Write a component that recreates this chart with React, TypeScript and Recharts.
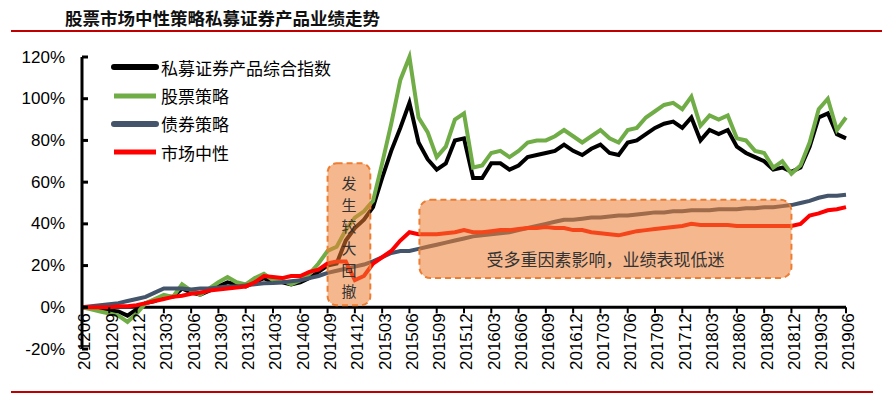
import React from 'react';
import { LineChart, Line, XAxis, YAxis, ReferenceLine, ReferenceArea, Legend } from 'recharts';

// x tick labels, one every 3 months starting at 201206
const tickLabels = [
  '201206', '201209', '201212', '201303', '201306', '201309', '201312', '201403', '201406', '201409',
  '201412', '201503', '201506', '201509', '201512', '201603', '201606', '201609', '201612', '201703',
  '201706', '201709', '201712', '201803', '201806', '201809', '201812', '201903', '201906',
];

// monthly values (%), 201206 .. 201906
const composite = [
  0, -0.5, -1, -1.5, -2, -4, -1, 2, 3, 5, 5, 9, 7, 6, 8, 10, 12, 11, 10, 12,
  14, 12, 12, 11, 12, 14, 17, 20, 21, 32, 38, 42, 48, 62, 75, 86, 98, 79, 71, 66,
  69, 80, 81, 62, 62, 69, 69, 66, 68, 72, 73, 74, 75, 78, 75, 73, 76, 78, 74, 73,
  79, 80, 83, 86, 88, 89, 86, 91, 80, 85, 83, 85, 77, 74, 72, 70, 66, 67, 65, 67,
  77, 91, 93, 83, 81,
];
const stock = [
  0, -1, -2, -3, -4, -7, -3, 2, 4, 6, 5, 11, 8, 6, 9, 12, 14.5, 12, 11, 14,
  16, 13, 13, 11, 13, 16, 21, 27, 29, 37, 43, 46, 51, 69, 88, 109, 120, 91, 84, 72,
  77, 90, 93, 67, 68, 74, 75, 72, 75, 79, 80, 80, 82, 85, 82, 79, 82, 85, 81, 79,
  85, 86, 91, 94, 97, 98, 95, 101, 87, 92, 90, 92, 81, 80, 75, 74, 67, 70, 64, 68,
  79, 95, 100, 85, 91,
];
const bond = [
  0, 0.5, 1, 1.5, 2, 3, 4, 5, 7, 9, 9, 9, 8.5, 9, 9, 9.5, 10, 10, 10.5, 11,
  11.5, 11.7, 12, 12.5, 13, 14, 15, 16.5, 17.5, 18.5, 19.5, 20.5, 22, 24, 26, 27, 27, 28, 29, 30,
  31, 32, 33, 34, 34.5, 35, 35.5, 36, 37, 38, 39, 40, 41, 42, 42, 42.5, 43, 43, 43.5, 44,
  44, 44.5, 45, 45.5, 45.5, 46, 46, 46.5, 46.5, 46.5, 47, 47, 47, 47.5, 47.5, 48, 48, 48.5, 49, 50,
  51, 52.5, 53.5, 53.5, 54,
];
const neutral = [
  0, 0, 0, 0, 0.5, 0.5, 1, 2, 3, 4, 5, 5.5, 6.5, 7, 8, 8.5, 9, 9.5, 10, 12,
  15, 14.5, 14, 15, 15, 17, 18, 21, 22, 22, 13, 15, 21, 24, 27, 32, 36, 35, 35, 35,
  35.5, 36, 37, 36, 36, 36.5, 37, 37, 37.5, 38, 38, 38.5, 38, 38, 37, 37, 36, 35.5, 35, 34.5,
  35.5, 36.5, 37, 37.5, 38, 38.5, 39, 40, 39.5, 39.5, 39.5, 39.5, 39, 39, 39, 39, 39, 39, 39, 40,
  44, 45, 46.5, 47, 48,
];

const series = [
  { key: 'composite', name: '私募证券产品综合指数', color: '#000000', values: composite },
  { key: 'stock', name: '股票策略', color: '#70AD47', values: stock },
  { key: 'bond', name: '债券策略', color: '#44546A', values: bond },
  { key: 'neutral', name: '市场中性', color: '#FF0000', values: neutral },
];

const data = composite.map((_, i) => {
  const row: Record<string, number> = { m: i };
  series.forEach((s) => (row[s.key] = s.values[i]));
  return row;
});

const yTicks = [-20, 0, 20, 40, 60, 80, 100, 120];
const xTicks = tickLabels.map((_, i) => i * 3);

const W = 882;
const H = 397;
const TOP = 57;
const BOTTOM = 48;
const PLOT_H = H - TOP - BOTTOM;
const ZERO_SHIFT = (PLOT_H * 20) / 140; // distance from -20% to 0%

const sans = '"Liberation Sans", Arial, sans-serif';
const cjk = '"Noto Sans CJK SC", sans-serif';

function XTick({ x, y, payload }: any) {
  const y0 = y - ZERO_SHIFT;
  const label = tickLabels[Math.round(payload.value / 3)];
  return (
    <g>
      <line x1={x} x2={x} y1={y0} y2={y0 + 6} stroke="#000" strokeWidth={2} />
      <text
        x={x + 3}
        y={y0 + 6}
        transform={`rotate(-90, ${x + 3}, ${y0 + 6})`}
        textAnchor="end"
        dominantBaseline="central"
        fontFamily={sans}
        fontSize={17}
        fill="#000"
      >
        {label}
      </text>
    </g>
  );
}

function YTick({ x, y, payload }: any) {
  return (
    <g>
      <line x1={x} x2={x + 6} y1={y} y2={y} stroke="#000" strokeWidth={3} />
      <text x={x - 17} y={y} textAnchor="end" dominantBaseline="central" fontFamily={sans} fontSize={17} fill="#000">
        {payload.value}%
      </text>
    </g>
  );
}

function LegendBox() {
  return (
    <div style={{ fontFamily: cjk, fontSize: 17, color: '#000' }}>
      {series.map((s, i) => (
        <div key={s.key} style={{ display: 'flex', alignItems: 'center', height: 28.4 }}>
          <svg width={50} height={10} style={{ display: 'block' }}>
            <line
              x1={3}
              x2={45}
              y1={5}
              y2={5}
              stroke={s.color}
              strokeWidth={i === 1 || i === 3 ? 5 : 6}
              strokeLinecap={i === 1 || i === 3 ? 'butt' : 'round'}
            />
          </svg>
          <span>{s.name}</span>
        </div>
      ))}
    </div>
  );
}

const boxFill = '#ED7D31';

function DrawdownBox(props: any) {
  const { x, y, width, height } = props;
  const chars = '发生较大回撤'.split('');
  return (
    <g>
      <rect x={x} y={y} width={width} height={height} rx={9} fill={boxFill} fillOpacity={0.55}
        stroke={boxFill} strokeWidth={2} strokeDasharray="6 4" />
      {chars.map((c, i) => (
        <text key={i} x={x + width / 2} y={y + 19 + i * 21.7} textAnchor="middle" dominantBaseline="central"
          fontFamily={cjk} fontSize={15} fill="#333">
          {c}
        </text>
      ))}
    </g>
  );
}

function SlumpBox(props: any) {
  const { x, y, width, height } = props;
  return (
    <g>
      <rect x={x} y={y} width={width} height={height} rx={11} fill={boxFill} fillOpacity={0.55}
        stroke={boxFill} strokeWidth={2} strokeDasharray="6 4" />
      <text x={x + width / 2} y={y + height - 20} textAnchor="middle" dominantBaseline="central"
        fontFamily={cjk} fontSize={17} fill="#333">
        受多重因素影响，业绩表现低迷
      </text>
    </g>
  );
}

export default function App() {
  return (
    <div style={{ position: 'absolute', left: 0, top: 0, width: W, height: H, background: '#fff' }}>
      <div
        style={{
          position: 'absolute', left: 65, top: 6, fontFamily: cjk, fontSize: 17.5,
          fontWeight: 700, color: '#111', lineHeight: '24px', whiteSpace: 'nowrap',
        }}
      >
        股票市场中性策略私募证券产品业绩走势
      </div>
      <div style={{ position: 'absolute', left: 11, top: 30, width: 871, height: 2, background: '#C00000' }} />
      <div style={{ position: 'absolute', left: 11, top: 391, width: 862, height: 2, background: '#C00000' }} />
      <LineChart width={W} height={H} data={data} margin={{ top: TOP, right: 36, bottom: 18, left: 0 }}>
        <XAxis
          dataKey="m"
          type="number"
          domain={[0, 84]}
          ticks={xTicks}
          interval={0}
          axisLine={false}
          tickLine={false}
          tickSize={0}
          tickMargin={0}
          height={30}
          tick={<XTick />}
        />
        <YAxis
          type="number"
          domain={[-20, 120]}
          ticks={yTicks}
          interval={0}
          width={82}
          axisLine={{ stroke: '#000', strokeWidth: 3 }}
          tickLine={false}
          tickSize={0}
          tickMargin={0}
          tick={<YTick />}
        />
        <ReferenceLine y={0} stroke="#000" strokeWidth={3} />
        {series.map((s) => (
          <Line
            key={s.key}
            dataKey={s.key}
            name={s.name}
            stroke={s.color}
            strokeWidth={4}
            dot={false}
            activeDot={false}
            type="linear"
            isAnimationActive={false}
          />
        ))}
        <ReferenceArea x1={27} x2={31.7} y1={1} y2={69} zIndex={1500} shape={<DrawdownBox />} />
        <ReferenceArea x1={37.1} x2={78} y1={14} y2={51.5} zIndex={1500} shape={<SlumpBox />} />
        <Legend
          layout="vertical"
          align="center"
          verticalAlign="middle"
          content={<LegendBox />}
          wrapperStyle={{ left: 111, top: 53, width: 'auto' }}
        />
      </LineChart>
    </div>
  );
}
